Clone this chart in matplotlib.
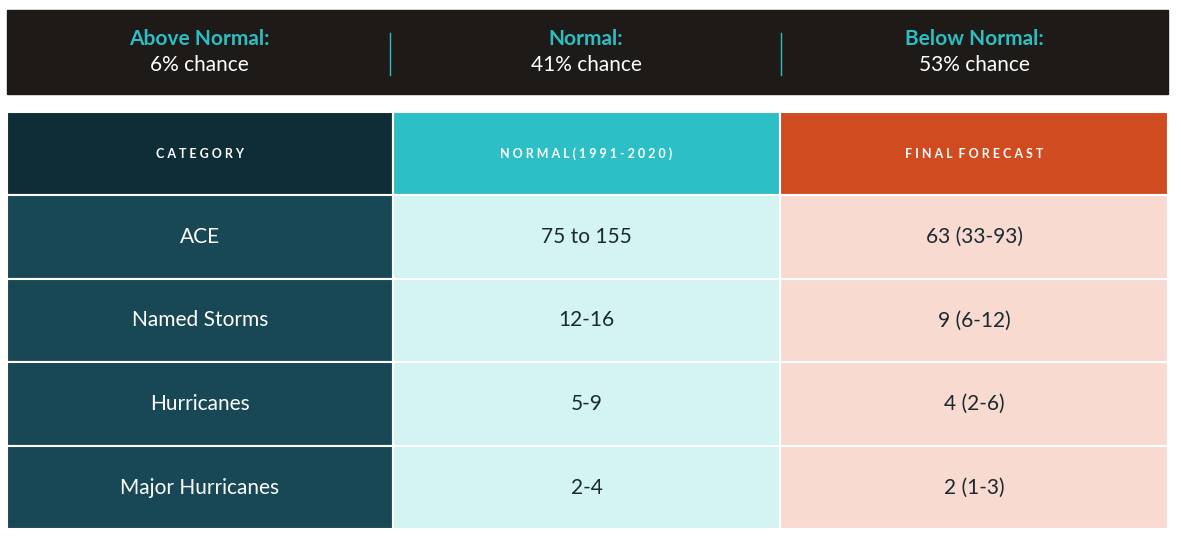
import matplotlib
matplotlib.use("Agg")
import matplotlib.pyplot as plt
from matplotlib.patches import Rectangle

outlook_labels = ["Above Normal:", "Normal:", "Below Normal:"]
outlook_values = ["6% chance", "41% chance", "53% chance"]
headers = ["CATEGORY", "NORMAL(1991-2020)", "FINAL FORECAST"]
categories = ["ACE", "Named Storms", "Hurricanes", "Major Hurricanes"]
normal = ["75 to 155", "12-16", "5-9", "2-4"]
forecast = ["63 (33-93)", "9 (6-12)", "4 (2-6)", "2 (1-3)"]

W, H = 1181, 537
fig = plt.figure(figsize=(W/100, H/100), dpi=100)
ax = fig.add_axes([0, 0, 1, 1])
ax.set_xlim(0, W); ax.set_ylim(H, 0); ax.axis("off")
FONT = "Lato"
teal = "#2bbfc4"

# banner
ax.add_patch(Rectangle((7, 10), 1161, 84, color="#1d1a17"))
centers = [199, 586, 974]
for i, (l, v) in enumerate(zip(outlook_labels, outlook_values)):
    ax.text(centers[i], 39, l, color=teal, ha="center", va="center", fontsize=15, fontweight="bold", family=FONT)
    ax.text(centers[i], 65, v, color="white", ha="center", va="center", fontsize=15, family=FONT)
for x in [390, 781]:
    ax.plot([x, x], [33, 75], color=teal, lw=1)

# table
cols = [7, 393, 780, 1168]
rows = [112, 195, 279, 362, 446, 529]
head_colors = ["#0f2d36", "#2cbfc5", "#d04b1f"]
body_colors = ["#184855", "#d4f3f3", "#f8dad1"]
for c in range(3):
    x0, x1 = cols[c], cols[c+1]
    ax.add_patch(Rectangle((x0, rows[0]), x1-x0, rows[1]-rows[0], facecolor=head_colors[c], edgecolor="white", lw=1.5))
    ax.text((x0+x1)/2, (rows[0]+rows[1])/2, " ".join(headers[c]).replace("   ", "  "), color="white",
            ha="center", va="center", fontsize=9, fontweight="bold", family=FONT)
    vals = [categories, normal, forecast][c]
    for r in range(4):
        y0, y1 = rows[r+1], rows[r+2]
        ax.add_patch(Rectangle((x0, y0), x1-x0, y1-y0, facecolor=body_colors[c], edgecolor="white", lw=1.5))
        ax.text((x0+x1)/2, (y0+y1)/2, vals[r], color="white" if c == 0 else "#1a2a30",
                ha="center", va="center", fontsize=15, family=FONT)

fig.savefig("out.png", dpi=100, facecolor="white")
